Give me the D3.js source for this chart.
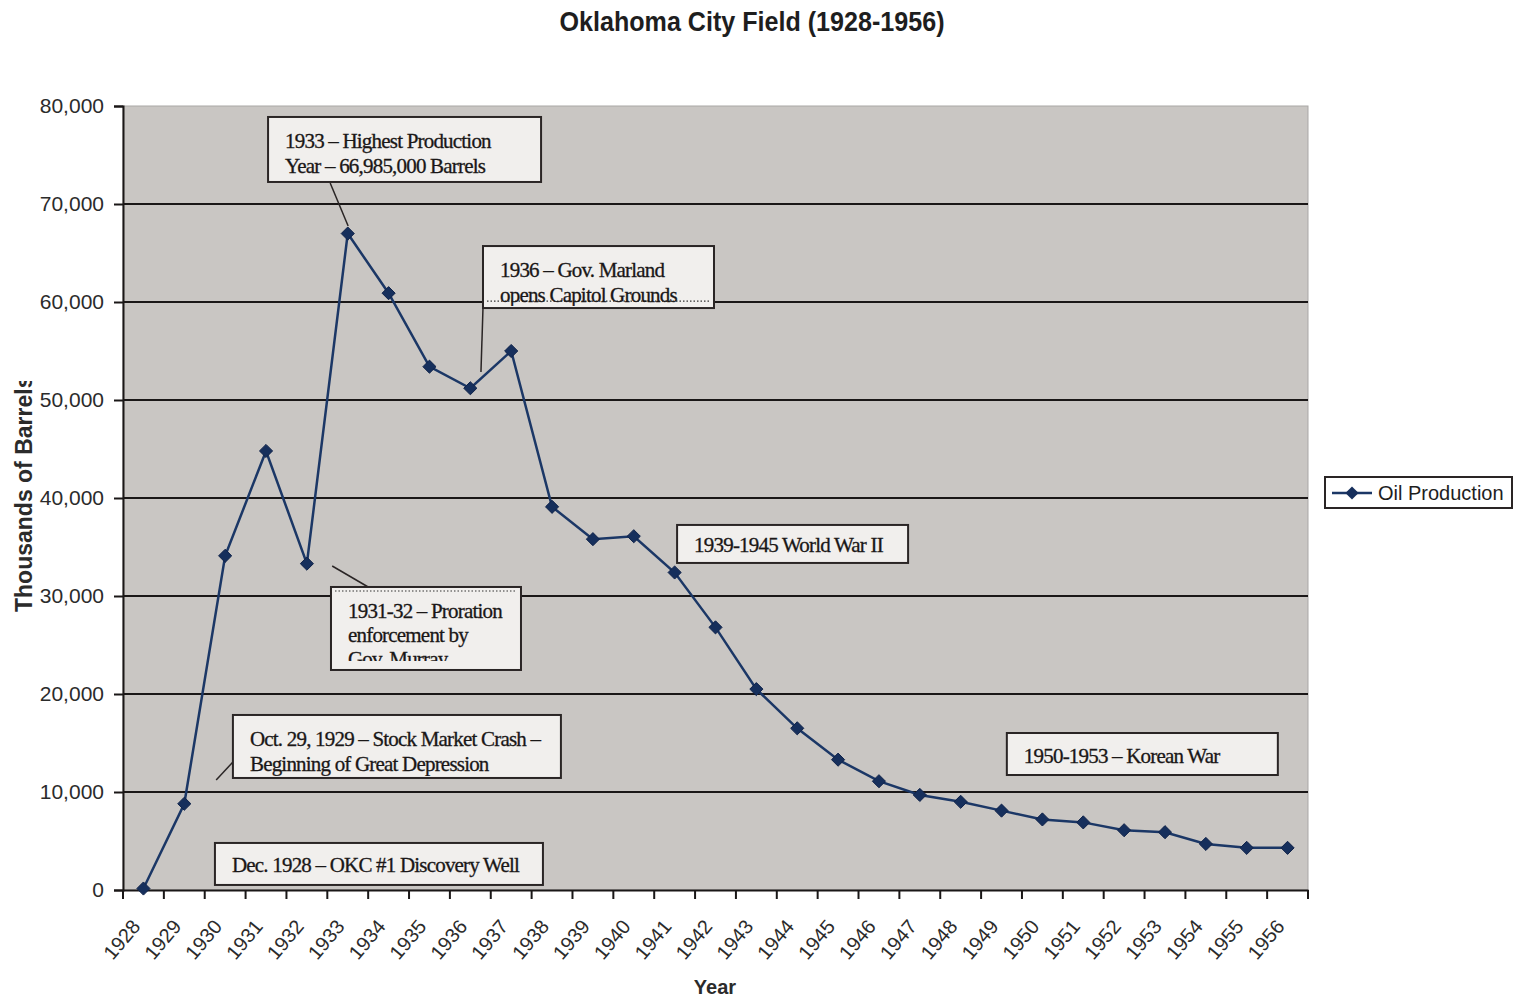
<!DOCTYPE html>
<html>
<head>
<meta charset="utf-8">
<script src="https://cdn.jsdelivr.net/npm/d3@7"></script>
<style>
  body { margin: 0; background: #fff; }
  svg { display: block; }
</style>
</head>
<body>
<div class="chart"></div>
<script>
// Data (thousands of barrels per year)
const years = d3.range(1928, 1957).map(String);
const production = [
  150, 8800, 34100, 44800, 33300, 66985, 60900, 53400, 51200, 55000,
  39100, 35800, 36100, 32400, 26800, 20500, 16500, 13300, 11100, 9700,
  9000, 8100, 7200, 6900, 6100, 5900, 4700, 4300, 4300
];
const yTicks = [0, 10000, 20000, 30000, 40000, 50000, 60000, 70000, 80000];

// Callouts: position given in (fractional year, value) units, size in px
const notes = [
  { lines: ["1933 \u2013 Highest Production", "Year \u2013 66,985,000 Barrels"], at: [1931.55, 78880], w: 273, h: 65, leader: [[1933.07, 72140], [1933.51, 67750]] },
  { lines: ["1936 \u2013 Gov. Marland", "opens Capitol Grounds"], at: [1936.81, 65710], w: 231, h: 62, dots: "bottom", leader: [[1936.81, 59390], [1936.76, 52860]] },
  { lines: ["1931-32 \u2013 Proration", "enforcement by", "Gov. Murray"], at: [1933.09, 30920], w: 190, h: 83, dots: "top", step: 24, clipH: 76, leader: [[1934.0, 30920], [1933.12, 33060]] },
  { lines: ["1939-1945 World War II"], at: [1941.56, 37250], w: 231, h: 38, first: 27 },
  { lines: ["Oct. 29, 1929 \u2013 Stock Market Crash \u2013", "Beginning of Great Depression"], at: [1930.69, 17860], w: 328, h: 63, leader: [[1930.69, 13060], [1930.28, 11220]] },
  { lines: ["Dec. 1928 \u2013 OKC #1 Discovery Well"], at: [1930.25, 4800], w: 328, h: 42, first: 29 },
  { lines: ["1950-1953 \u2013 Korean War"], at: [1949.63, 16020], w: 271, h: 42, first: 30 }
];

const margin = { top: 106, right: 212, bottom: 110, left: 123 };
const width = 1520 - margin.left - margin.right;
const height = 1000 - margin.top - margin.bottom;

const svg = d3.select(".chart").append("svg")
  .attr("width", 1520)
  .attr("height", 1000);

const defs = svg.append("defs");

const g = svg.append("g")
  .attr("transform", `translate(${margin.left},${margin.top})`);

const x = d3.scaleBand().domain(years).range([0, width]).padding(0);
const y = d3.scaleLinear().domain([0, 80000]).range([height, 0]);
const cx = d => x(d) + x.bandwidth() / 2;
// fractional-year position (band start of 1928 = 1928.0)
const xf = d3.scaleLinear().domain([1928, 1957]).range([0, width]);

// Plot background
g.append("rect")
  .attr("width", width).attr("height", height)
  .attr("fill", "#c9c6c3")
  .attr("stroke", "#a9a7a6").attr("stroke-width", 1);

// Gridlines
g.selectAll("line.grid")
  .data(yTicks.slice(1, -1))
  .enter().append("line")
  .attr("class", "grid")
  .attr("x1", 0).attr("x2", width)
  .attr("y1", d => y(d)).attr("y2", d => y(d))
  .attr("stroke", "#1a1717").attr("stroke-width", 2);

// Y axis
const yAxis = g.append("g")
  .call(d3.axisLeft(y).tickValues(yTicks).tickSize(9).tickPadding(10).tickFormat(d3.format(",")));
yAxis.selectAll("text")
  .attr("font-family", "Liberation Sans, Arial, sans-serif")
  .attr("font-size", 21).attr("fill", "#2b2b2b");
yAxis.selectAll("line, path").attr("stroke", "#1a1717").attr("stroke-width", 2);

// X axis (labels at centers, ticks at band boundaries)
const xAxis = g.append("g")
  .attr("transform", `translate(0,${height})`)
  .call(d3.axisBottom(x).tickSize(0));
xAxis.select("path").attr("stroke", "#1a1717").attr("stroke-width", 2);
xAxis.selectAll("text")
  .attr("font-family", "Liberation Sans, Arial, sans-serif")
  .attr("font-size", 20).attr("fill", "#2b2b2b")
  .attr("text-anchor", "end")
  .attr("x", 0).attr("y", 0).attr("dy", 0)
  .attr("transform", "translate(-2,37) rotate(-50)");
g.append("g")
  .attr("transform", `translate(0,${height})`)
  .selectAll("line")
  .data(years.concat(["end"]))
  .enter().append("line")
  .attr("x1", d => d === "end" ? width : x(d))
  .attr("x2", d => d === "end" ? width : x(d))
  .attr("y1", 0).attr("y2", 9)
  .attr("stroke", "#1a1717").attr("stroke-width", 2);

// Annotation leaders
const noteG = g.append("g");
notes.filter(n => n.leader).forEach(n => {
  const [a, b] = n.leader;
  noteG.append("line")
    .attr("x1", xf(a[0])).attr("y1", y(a[1]))
    .attr("x2", xf(b[0])).attr("y2", y(b[1]))
    .attr("stroke", "#2a2525").attr("stroke-width", 1.5);
});

// Line and markers
const line = d3.line()
  .x((d, i) => cx(years[i]))
  .y(d => y(d));

g.append("path")
  .datum(production)
  .attr("fill", "none")
  .attr("stroke", "#1b3766")
  .attr("stroke-width", 2.5)
  .attr("d", line);

g.selectAll("path.marker")
  .data(production)
  .enter().append("path")
  .attr("class", "marker")
  .attr("d", d3.symbol(d3.symbolDiamond2, 110))
  .attr("transform", (d, i) => `translate(${cx(years[i])},${y(d)})`)
  .attr("fill", "#162f5c")
  .attr("stroke", "#10234a").attr("stroke-width", 1);

// Annotation boxes
notes.forEach((n, k) => {
  const bx = xf(n.at[0]);
  const by = y(n.at[1]);
  const box = noteG.append("g").attr("transform", `translate(${bx},${by})`);
  defs.append("clipPath").attr("id", "clip" + k)
    .append("rect").attr("x", 2).attr("y", 2).attr("width", n.w - 4).attr("height", (n.clipH || n.h) - 4);
  box.append("rect")
    .attr("width", n.w).attr("height", n.h)
    .attr("fill", "#f1efed")
    .attr("stroke", "#2a2525").attr("stroke-width", 2);
  if (n.dots) {
    const dy = n.dots === "top" ? 4 : n.h - 7;
    box.append("line")
      .attr("x1", 4).attr("x2", n.w - 4).attr("y1", dy).attr("y2", dy)
      .attr("stroke", "#333").attr("stroke-width", 1.2)
      .attr("stroke-dasharray", "1.5,2");
  }
  const tg = box.append("g").attr("clip-path", `url(#clip${k})`);
  n.lines.forEach((t, i) => {
    tg.append("text")
      .attr("x", 17)
      .attr("y", (n.first || 31) + i * (n.step || 25))
      .attr("font-family", "Liberation Serif, Times New Roman, serif")
      .attr("font-size", 21)
      .attr("fill", "#1a1717")
      .attr("stroke", "#1a1717").attr("stroke-width", 0.3)
      .attr("letter-spacing", -0.8)
      .text(t);
  });
});

// Title
svg.append("text")
  .attr("x", 752).attr("y", 31)
  .attr("text-anchor", "middle")
  .attr("font-family", "Liberation Sans Narrow, Arial Narrow, sans-serif")
  .attr("font-weight", "bold")
  .attr("font-size", 27)
  .attr("fill", "#1e1e1e")
  .attr("textLength", 385)
  .attr("lengthAdjust", "spacingAndGlyphs")
  .text("Oklahoma City  Field (1928-1956)");

// Axis titles
svg.append("text")
  .attr("x", 715).attr("y", 994)
  .attr("text-anchor", "middle")
  .attr("font-family", "Liberation Sans, Arial, sans-serif")
  .attr("font-weight", "bold")
  .attr("font-size", 20)
  .attr("fill", "#2b2b2b")
  .text("Year");

defs.append("clipPath").attr("id", "ytitleclip")
  .append("rect").attr("x", 0).attr("y", 381).attr("width", 60).attr("height", 300);
svg.append("g").attr("clip-path", "url(#ytitleclip)")
  .append("text")
  .attr("transform", "translate(32,612) rotate(-90)")
  .attr("text-anchor", "start")
  .attr("font-family", "Liberation Sans, Arial, sans-serif")
  .attr("font-weight", "bold")
  .attr("font-size", 23)
  .attr("fill", "#2b2b2b")
  .text("Thousands of Barrels");

// Legend
const legend = svg.append("g").attr("transform", "translate(1325,477)");
legend.append("rect")
  .attr("width", 187).attr("height", 31)
  .attr("fill", "#fff").attr("stroke", "#2a2525").attr("stroke-width", 2);
legend.append("line")
  .attr("x1", 7).attr("x2", 47).attr("y1", 16).attr("y2", 16)
  .attr("stroke", "#1b3766").attr("stroke-width", 2.5);
legend.append("path")
  .attr("d", d3.symbol(d3.symbolDiamond2, 110))
  .attr("transform", "translate(27,16)")
  .attr("fill", "#162f5c");
legend.append("text")
  .attr("x", 53).attr("y", 23)
  .attr("font-family", "Liberation Sans, Arial, sans-serif")
  .attr("font-size", 20)
  .attr("fill", "#1e1e1e")
  .text("Oil Production");
</script>
</body>
</html>
